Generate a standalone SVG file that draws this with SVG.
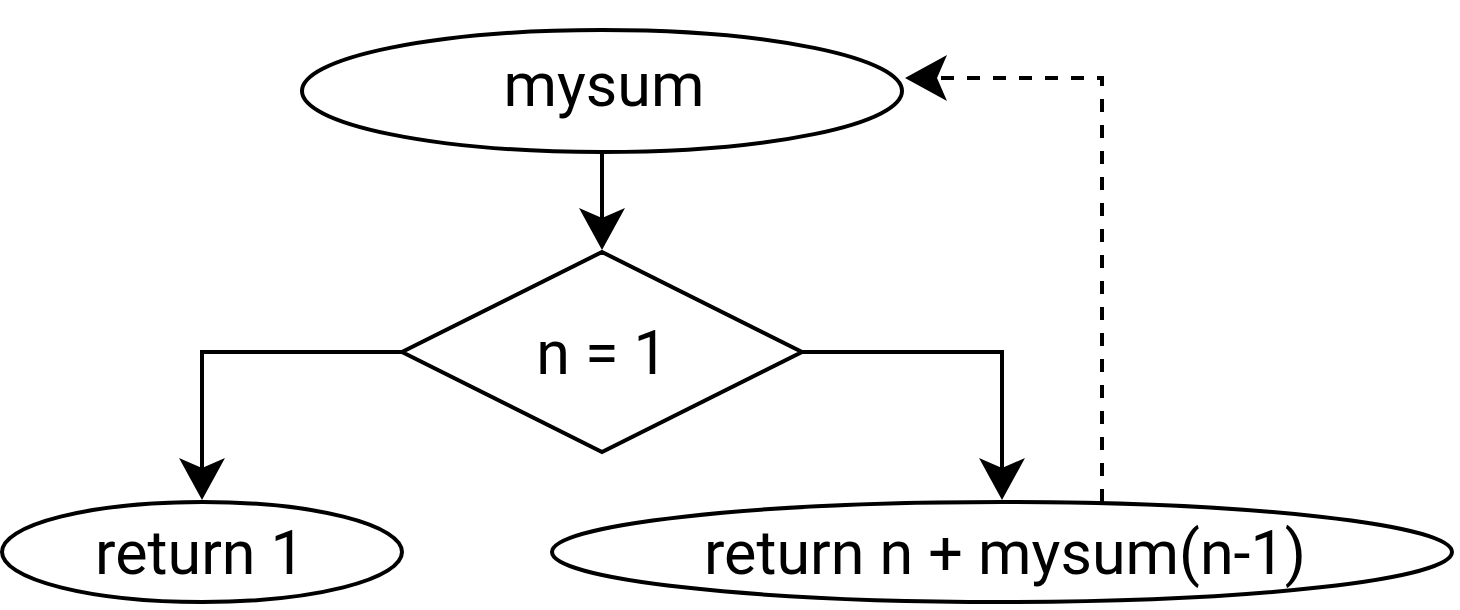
<svg xmlns="http://www.w3.org/2000/svg" width="1460" height="610" viewBox="0 0 1460 610">
<defs>
<style>
.shape{fill:#ffffff;stroke:#000000;stroke-width:4}
.edge{fill:none;stroke:#000000;stroke-width:4}
.dash{stroke-dasharray:13 13}
.lbl{font-family:Roboto,"Liberation Sans",sans-serif;font-size:61px;fill:#000000;text-anchor:middle}
</style>
<marker id="arrow" markerUnits="userSpaceOnUse" viewBox="0 0 42 46" markerWidth="42" markerHeight="46" refX="32" refY="23" orient="auto">
<path d="M42,23 L0,0 L10,23 L0,46 Z" fill="#000000"/>
</marker>
</defs>
<rect width="1460" height="610" fill="#ffffff"/>
<g id="connectors">
<path class="edge" d="M602,152 L602,240" marker-end="url(#arrow)"/>
<path class="edge" d="M402,352 L202,352 L202,490" marker-end="url(#arrow)"/>
<path class="edge" d="M802,352 L1002,352 L1002,490" marker-end="url(#arrow)"/>
<path class="edge dash" d="M1102,502 L1102,78 L915,78" marker-end="url(#arrow)"/>
</g>
<g id="mysum">
<ellipse class="shape" cx="602" cy="91" rx="300" ry="61"/>
<text class="lbl" x="604" y="106">mysum</text>
</g>
<g id="cond">
<polygon class="shape" points="602,252 802,352 602,452 402,352"/>
<text class="lbl" x="602" y="374">n = 1</text>
</g>
<g id="ret1">
<ellipse class="shape" cx="202" cy="552" rx="200" ry="50"/>
<text class="lbl" x="200" y="574">return 1</text>
</g>
<g id="retrec">
<ellipse class="shape" cx="1002" cy="552" rx="450" ry="50"/>
<text class="lbl" x="1005" y="574">return n + mysum(n-1)</text>
</g>
</svg>
